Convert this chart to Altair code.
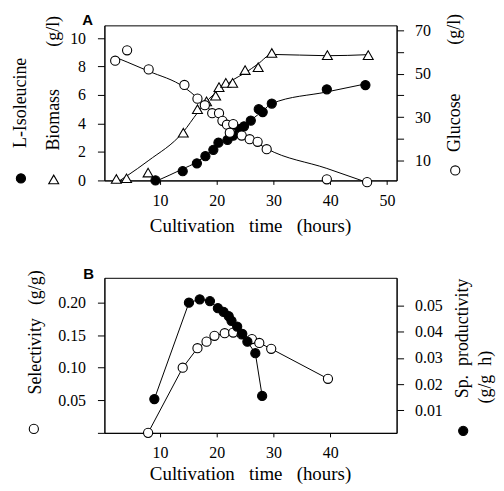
import altair as alt
import pandas as pd

# ---------------- data ----------------
# Panel A : L-Isoleucine (g/l, left axis)
iso_t = [9.2, 14.0, 16.5, 18.0, 19.4, 20.3, 21.9, 22.9, 24.0, 24.8, 26.0, 27.4, 28.1, 29.7, 39.4, 46.2]
iso_v = [0.0, 0.65, 1.2, 1.7, 2.15, 2.65, 2.85, 3.15, 3.6, 3.8, 4.2, 5.0, 4.8, 5.4, 6.4, 6.7]
# Panel A : Biomass (g/l, left axis)
bio_t = [2.3, 4.1, 7.9, 14.1, 16.6, 18.2, 19.8, 20.4, 21.6, 22.8, 25.0, 27.3, 29.7, 39.5, 46.7]
bio_v = [0.1, 0.15, 0.55, 3.35, 5.0, 5.55, 5.95, 6.55, 6.85, 6.85, 7.75, 7.95, 8.95, 8.8, 8.8]
# Panel A : Glucose (g/l, right axis)
glu_t = [2.1, 4.2, 8.0, 14.3, 16.6, 17.9, 19.2, 20.4, 21.0, 21.8, 22.9, 22.3, 24.4, 25.8, 27.2, 28.8, 39.4, 46.5]
glu_v = [56.0, 60.8, 52.0, 44.8, 38.5, 35.5, 31.8, 31.8, 28.3, 26.5, 26.8, 22.8, 21.5, 19.8, 18.6, 15.2, 1.3, 0.0]

# Panel B : Selectivity (g/g, left axis)
sel_t = [7.9, 14.0, 16.6, 18.2, 19.6, 21.4, 22.9, 24.4, 26.2, 27.5, 29.6, 39.6]
sel_v = [0.0, 0.10, 0.13, 0.14, 0.149, 0.153, 0.154, 0.151, 0.144, 0.138, 0.129, 0.083]
# Panel B : Specific productivity (g/g h, right axis)
prod_t = [9.0, 15.1, 17.0, 18.8, 20.2, 21.2, 22.1, 22.6, 23.6, 24.5, 25.4, 26.8, 28.0]
prod_v = [0.0143, 0.0511, 0.0524, 0.0517, 0.0490, 0.0476, 0.0460, 0.0442, 0.0420, 0.0392, 0.0362, 0.0318, 0.0155]

# ticks
x_ticks_a = [10, 20, 30, 40, 50]
x_ticks_b = [10, 20, 30, 40]
ya_left_ticks = [0, 2, 4, 6, 8, 10]
ya_right_ticks = [10, 20, 30, 40, 50, 60, 70]
yb_left_ticks = [0, 0.05, 0.10, 0.15, 0.20]
yb_right_ticks = [0.01, 0.02, 0.03, 0.04, 0.05]

x_title = "Cultivation\u00a0\u00a0 time\u00a0\u00a0 (hours)"

SERIF = "Liberation Serif, Times New Roman, serif"
SANS = "Liberation Sans, Arial, sans-serif"
LBL = 16
W, H = 294, 156


def df(t, v):
    return pd.DataFrame({"t": t, "v": v})


def ax(**kw):
    return alt.Axis(labelFont=SERIF, labelFontSize=LBL, labelColor="black",
                    tickColor="black", domainColor="black", grid=False, title=None,
                    domainWidth=1, tickWidth=1, **kw)


def xenc(ticks):
    return alt.X("t:Q", scale=alt.Scale(domain=[0.2, 51.7], nice=False, zero=False),
                 axis=ax(values=ticks, tickSize=4, labelPadding=8, format="d"))


def pts(data, x, y, shape, filled):
    return alt.Chart(data).mark_point(shape=shape, filled=True,
                                      fill="black" if filled else "white",
                                      stroke="black", strokeWidth=1.1,
                                      size=85 if shape == "circle" else 100,
                                      opacity=1).encode(x=x, y=y)


def smooth(data, x, y, bw):
    return (alt.Chart(data).transform_loess("t", "v", bandwidth=bw)
            .mark_line(color="black", strokeWidth=1, interpolate="monotone")
            .encode(x=x, y=y))


def straight(data, x, y):
    return alt.Chart(data).mark_line(color="black", strokeWidth=1).encode(x=x, y=y)


def txt(s, x, y, size=18, angle=270, font=SERIF, weight="normal"):
    return (alt.Chart(pd.DataFrame({"s": [s]}))
            .mark_text(angle=angle, font=font, fontSize=size, fontWeight=weight,
                       color="black", align="center", baseline="middle")
            .encode(x=alt.value(x), y=alt.value(y), text="s:N"))


def sym(shape, filled, x, y):
    return (alt.Chart(pd.DataFrame({"a": [0]}))
            .mark_point(shape=shape, filled=True, fill="black" if filled else "white",
                        stroke="black", strokeWidth=1.1, opacity=1,
                        size=85 if shape == "circle" else 100)
            .encode(x=alt.value(x), y=alt.value(y)))


# ---------------- Panel A ----------------
xa = xenc(x_ticks_a)
ya_l = alt.Y("v:Q", scale=alt.Scale(domain=[0, 10.89], nice=False, zero=False),
             axis=ax(orient="left", values=ya_left_ticks, format="d",
                     tickSize=7, labelPadding=12))
ya_r = alt.Y("v:Q", scale=alt.Scale(domain=[0.8, 72.3], nice=False, zero=False),
             axis=ax(orient="right", values=ya_right_ticks, format="d",
                     tickSize=7, labelPadding=11,
                     labelExpr="datum.value % 20 == 10 ? datum.label : ''"))

d_iso, d_bio, d_glu = df(iso_t, iso_v), df(bio_t, bio_v), df(glu_t, glu_v)

left_a = alt.layer(
    smooth(d_bio, xa, ya_l, 0.45),
    smooth(d_iso, xa, ya_l, 0.45),
    pts(d_bio, xa, ya_l, "triangle-up", False),
    pts(d_iso, xa, ya_l, "circle", True),
)
right_a = alt.layer(
    smooth(d_glu, xa, ya_r, 0.45),
    pts(d_glu, xa, ya_r, "circle", False),
)

panel_a = alt.layer(
    left_a, right_a,
    txt("A", -17, -5, size=15, angle=0, font=SANS, weight="bold"),
    txt(x_title, W / 2, H + 46, size=19, angle=0),
    txt("L-Isoleucine", -84, 78),
    sym("circle", True, -84, 154),
    txt("Biomass", -51, 95),
    sym("triangle-up", False, -51, 155),
    txt("(g/l)", -51, 6),
    txt("(g/l)", 353, 4),
    txt("Glucose", 353, 98),
    sym("circle", False, 353, 146),
).resolve_scale(y="independent").properties(width=W, height=H)

# ---------------- Panel B ----------------
xb = xenc(x_ticks_b)
yb_l = alt.Y("v:Q", scale=alt.Scale(domain=[0, 0.238], nice=False, zero=False),
             axis=ax(orient="left", values=yb_left_ticks, format=".2f",
                     tickSize=7, labelPadding=12,
                     labelExpr="datum.value == 0 ? '' : datum.label"))
yb_r = alt.Y("v:Q", scale=alt.Scale(domain=[0.0014, 0.0606], nice=False, zero=False),
             axis=ax(orient="right", values=yb_right_ticks, format=".2f",
                     tickSize=7, labelPadding=11))

d_sel, d_prod = df(sel_t, sel_v), df(prod_t, prod_v)

left_b = alt.layer(straight(d_sel, xb, yb_l), pts(d_sel, xb, yb_l, "circle", False))
right_b = alt.layer(straight(d_prod, xb, yb_r), pts(d_prod, xb, yb_r, "circle", True))

panel_b = alt.layer(
    left_b, right_b,
    txt("B", -16, -4, size=15, angle=0, font=SANS, weight="bold"),
    txt(x_title, W / 2, H + 41, size=19, angle=0),
    txt("Selectivity", -69, 79),
    txt("(g/g)", -69, 10),
    sym("circle", False, -71, 152),
    txt("Sp.\u00a0 productivity", 361, 61),
    txt("(g/g\u00a0 h)", 384, 100),
    sym("circle", True, 361, 154),
).resolve_scale(y="independent").properties(width=W, height=H)

chart = (
    alt.vconcat(panel_a, panel_b, spacing=98, bounds="flush")
    .properties(padding={"left": 3, "top": 3, "right": 0, "bottom": 0},
                background="white")
    .configure_view(stroke="black", strokeWidth=1)
)

chart.save("out.html", embed_options={"renderer": "svg", "actions": False})
